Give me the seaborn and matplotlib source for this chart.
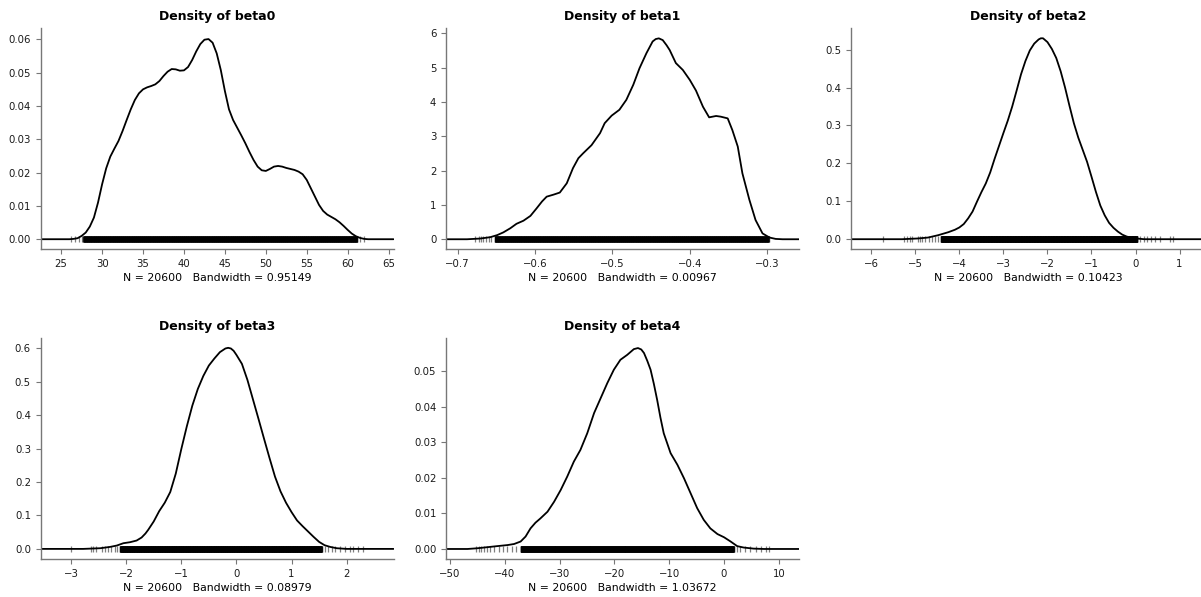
import numpy as np
import pandas as pd
import matplotlib
matplotlib.use("Agg")
import matplotlib.pyplot as plt
import seaborn as sns

# density curves (x, density)
beta0_x = [22.5, 26.0, 26.5, 27.0, 27.5, 28.0, 28.5, 29.0, 29.5, 30.0, 30.5, 31.0, 31.5, 32.0,
           32.5, 33.0, 33.5, 34.0, 34.5, 35.0, 35.5, 36.0, 36.5, 37.0, 37.5, 38.0, 38.5, 39.0,
           39.5, 40.0, 40.5, 41.0, 41.5, 42.0, 42.5, 43.0, 43.5, 44.0, 44.5, 45.0, 45.5, 46.0,
           46.5, 47.0, 47.5, 48.0, 48.5, 49.0, 49.5, 50.0, 50.5, 51.0, 51.5, 52.0, 52.5, 53.0,
           53.5, 54.0, 54.5, 55.0, 55.5, 56.0, 56.5, 57.0, 57.5, 58.0, 58.5, 59.0, 59.5, 60.0,
           60.5, 61.0, 61.5, 62.0, 62.5, 65.6]
beta0_y = [0.0, 0.0, 0.0001, 0.0003, 0.0010, 0.0020, 0.0038, 0.0065, 0.0110, 0.0165, 0.0213,
           0.0248, 0.0272, 0.0295, 0.0325, 0.0358, 0.0390, 0.0418, 0.0438, 0.0450, 0.0456,
           0.0460, 0.0465, 0.0475, 0.0490, 0.0503, 0.0511, 0.0510, 0.0506, 0.0507, 0.0517,
           0.0538, 0.0564, 0.0586, 0.0599, 0.0601, 0.0590, 0.0558, 0.0508, 0.0445, 0.0390,
           0.0358, 0.0335, 0.0312, 0.0288, 0.0262, 0.0238, 0.0218, 0.0207, 0.0205, 0.0211,
           0.0218, 0.0220, 0.0218, 0.0214, 0.0211, 0.0208, 0.0203, 0.0195, 0.0178, 0.0153,
           0.0128, 0.0103, 0.0085, 0.0074, 0.0067, 0.0060, 0.0051, 0.0040, 0.0028, 0.0017,
           0.0009, 0.0004, 0.0001, 0.0, 0.0]

beta1_x = [-0.715, -0.688, -0.671, -0.658, -0.649, -0.641, -0.632, -0.624, -0.615, -0.606,
           -0.598, -0.591, -0.585, -0.576, -0.568, -0.559, -0.551, -0.544, -0.538, -0.527,
           -0.516, -0.510, -0.501, -0.491, -0.482, -0.473, -0.465, -0.456, -0.448, -0.444,
           -0.440, -0.435, -0.430, -0.426, -0.418, -0.409, -0.400, -0.392, -0.383, -0.375,
           -0.366, -0.360, -0.351, -0.345, -0.338, -0.332, -0.323, -0.315, -0.306, -0.297,
           -0.289, -0.280, -0.259]
beta1_y = [0.0, 0.0, 0.02, 0.06, 0.12, 0.2, 0.32, 0.45, 0.54, 0.68, 0.9, 1.1, 1.24, 1.3, 1.36,
           1.63, 2.07, 2.36, 2.5, 2.74, 3.09, 3.38, 3.6, 3.77, 4.06, 4.5, 4.98, 5.42, 5.76, 5.83,
           5.85, 5.80, 5.65, 5.51, 5.13, 4.93, 4.64, 4.33, 3.86, 3.55, 3.59, 3.57, 3.52, 3.18,
           2.7, 1.92, 1.15, 0.56, 0.17, 0.05, 0.01, 0.0, 0.0]

beta2_x = [-6.5, -5.3, -4.93, -4.71, -4.48, -4.25, -4.1, -4.0, -3.9, -3.8, -3.7, -3.6, -3.5,
           -3.4, -3.3, -3.2, -3.1, -3.0, -2.9, -2.8, -2.7, -2.6, -2.5, -2.4, -2.3, -2.2, -2.15,
           -2.1, -2.0, -1.9, -1.8, -1.7, -1.6, -1.5, -1.4, -1.3, -1.2, -1.1, -1.0, -0.9, -0.8,
           -0.7, -0.6, -0.5, -0.4, -0.3, -0.2, -0.1, 0.0, 0.2, 1.56]
beta2_y = [0.0, 0.0, 0.002, 0.0044, 0.0106, 0.0185, 0.025, 0.031, 0.040, 0.055, 0.073, 0.099,
           0.124, 0.147, 0.176, 0.212, 0.246, 0.280, 0.313, 0.350, 0.392, 0.435, 0.470, 0.498,
           0.516, 0.527, 0.530, 0.530, 0.520, 0.502, 0.478, 0.443, 0.400, 0.352, 0.306, 0.268,
           0.236, 0.204, 0.165, 0.125, 0.089, 0.063, 0.043, 0.030, 0.020, 0.012, 0.007, 0.004,
           0.002, 0.0, 0.0]

beta3_x = [-3.55, -2.78, -2.47, -2.29, -2.17, -2.05, -1.93, -1.81, -1.72, -1.65, -1.60, -1.50,
           -1.40, -1.30, -1.20, -1.10, -1.00, -0.90, -0.80, -0.70, -0.60, -0.50, -0.40, -0.30,
           -0.20, -0.15, -0.10, -0.05, 0.00, 0.10, 0.20, 0.30, 0.40, 0.50, 0.60, 0.70, 0.80,
           0.90, 1.00, 1.10, 1.20, 1.30, 1.40, 1.50, 1.60, 1.70, 1.82, 2.0, 2.85]
beta3_y = [0.0, 0.0, 0.002, 0.006, 0.010, 0.017, 0.020, 0.025, 0.034, 0.046, 0.057, 0.082,
           0.113, 0.138, 0.170, 0.225, 0.298, 0.366, 0.428, 0.478, 0.517, 0.548, 0.569, 0.588,
           0.599, 0.601, 0.599, 0.592, 0.580, 0.553, 0.505, 0.447, 0.389, 0.330, 0.272, 0.216,
           0.172, 0.138, 0.110, 0.085, 0.068, 0.052, 0.036, 0.021, 0.011, 0.006, 0.002, 0.0, 0.0]

beta4_x = [-50.7, -46.8, -45.0, -43.2, -41.4, -39.5, -38.3, -37.1, -36.2, -35.3, -34.4, -33.5,
           -32.2, -31.0, -29.8, -28.6, -27.4, -26.2, -24.95, -23.7, -22.5, -21.3, -20.1, -18.9,
           -17.65, -16.45, -15.7, -15.1, -14.6, -14.0, -13.4, -12.8, -12.2, -11.6, -11.0, -9.75,
           -8.5, -7.3, -6.1, -4.9, -3.7, -2.5, -1.2, 0.0, 1.2, 2.4, 3.6, 5.4, 7.3, 13.65]
beta4_y = [0.0, 0.0, 0.0002, 0.0005, 0.0008, 0.0011, 0.0014, 0.0021, 0.0035, 0.0058, 0.0074,
           0.0086, 0.0105, 0.0133, 0.0166, 0.0204, 0.0246, 0.0279, 0.0326, 0.0383, 0.0425,
           0.0467, 0.0505, 0.0533, 0.0547, 0.0563, 0.0566, 0.0562, 0.0552, 0.0530, 0.0505,
           0.0465, 0.042, 0.037, 0.0326, 0.027, 0.0237, 0.0199, 0.0157, 0.0115, 0.0082, 0.0058,
           0.0042, 0.0033, 0.0021, 0.0008, 0.0004, 0.0001, 0.0, 0.0]

# rug: isolated tail draws + the span where the draws form a solid band
beta0_rug_tails = [26.2, 26.7, 27.2, 27.5, 61.55, 61.96]
beta0_rug_band = (27.7, 61.15)
beta1_rug_tails = [-0.677, -0.673, -0.670, -0.667, -0.663, -0.660, -0.657]
beta1_rug_band = (-0.652, -0.298)
beta2_rug_tails = [-5.74, -5.25, -5.19, -5.13, -5.07, -4.95, -4.89, -4.84, -4.78, -4.70, -4.63,
                   -4.55, -4.48, 0.11, 0.19, 0.26, 0.34, 0.45, 0.56, 0.79, 0.86]
beta2_rug_band = (-4.42, 0.04)
beta3_rug_tails = [-3.005, -2.64, -2.60, -2.55, -2.44, -2.38, -2.33, -2.27, -2.21, -2.16,
                   1.61, 1.67, 1.73, 1.79, 1.88, 1.97, 2.06, 2.12, 2.21, 2.30]
beta3_rug_band = (-2.11, 1.55)
beta4_rug_tails = [-45.3, -44.7, -44.3, -43.8, -43.2, -42.6, -41.9, -41.1, -40.3, -39.5, -38.7,
                   -37.9, 2.4, 3.0, 3.9, 4.8, 5.75, 6.7, 7.6, 8.2]
beta4_rug_band = (-37.1, 1.8)

names = ["beta0", "beta1", "beta2", "beta3", "beta4"]
bandwidths = ["0.95149", "0.00967", "0.10423", "0.08979", "1.03672"]
n_draws = 20600

xlims = [(22.5, 65.6), (-0.715, -0.259), (-6.45, 1.56), (-3.55, 2.85), (-50.7, 13.65)]
ylims = [(-0.003, 0.0634), (-0.29, 6.15), (-0.0264, 0.557), (-0.031, 0.63), (-0.0029, 0.0594)]
xticks = [[25, 30, 35, 40, 45, 50, 55, 60, 65], [-0.7, -0.6, -0.5, -0.4, -0.3],
          [-6, -5, -4, -3, -2, -1, 0, 1], [-3, -2, -1, 0, 1, 2], [-50, -40, -30, -20, -10, 0, 10]]
yticks = [[0, 0.01, 0.02, 0.03, 0.04, 0.05, 0.06], [0, 1, 2, 3, 4, 5, 6],
          [0, 0.1, 0.2, 0.3, 0.4, 0.5], [0, 0.1, 0.2, 0.3, 0.4, 0.5, 0.6],
          [0, 0.01, 0.02, 0.03, 0.04, 0.05]]
yfmt = ["%.2f", "%d", "%.1f", "%.1f", "%.2f"]

curves = [(beta0_x, beta0_y), (beta1_x, beta1_y), (beta2_x, beta2_y),
          (beta3_x, beta3_y), (beta4_x, beta4_y)]
rugs = [(beta0_rug_tails, beta0_rug_band), (beta1_rug_tails, beta1_rug_band),
        (beta2_rug_tails, beta2_rug_band), (beta3_rug_tails, beta3_rug_band),
        (beta4_rug_tails, beta4_rug_band)]

sns.set_style("ticks")
plt.rcParams["font.family"] = ["DejaVu Sans"]
plt.rcParams["text.color"] = "black"
plt.rcParams["axes.labelcolor"] = "black"

fig, axes = plt.subplots(2, 3, figsize=(12.01, 5.97), dpi=100)
fig.subplots_adjust(left=0.0339, right=1.0027, bottom=0.0632, top=0.953,
                    wspace=0.149, hspace=0.402)
axes = axes.ravel()

for i, name in enumerate(names):
    ax = axes[i]
    cx, cy = curves[i]
    df = pd.DataFrame({"x": cx, "density": cy})

    # rug of draws, centred on the zero line
    tails, (lo, hi) = rugs[i]
    band = np.linspace(lo, hi, 1500)
    sns.scatterplot(x=tails, y=np.zeros(len(tails)), ax=ax, marker="|", s=13,
                    color="black", alpha=0.5, linewidth=0.9, legend=False)
    sns.scatterplot(x=band, y=np.zeros(len(band)), ax=ax, marker="|", s=13,
                    color="black", alpha=0.6, linewidth=0.9, legend=False)

    sns.lineplot(data=df, x="x", y="density", ax=ax, color="black", linewidth=1.3,
                 sort=False, estimator=None)

    ax.set_xlim(*xlims[i])
    ax.set_ylim(*ylims[i])
    ax.set_xticks(xticks[i])
    ax.set_yticks(yticks[i])
    ax.yaxis.set_major_formatter(matplotlib.ticker.FormatStrFormatter(yfmt[i]))
    ax.set_title(f"Density of {name}", fontsize=9, fontweight="bold", pad=6)
    ax.set_xlabel(f"N = {n_draws}   Bandwidth = {bandwidths[i]}", fontsize=7.8, labelpad=3)
    ax.set_ylabel("")
    ax.tick_params(labelsize=7.3, length=3.5, width=0.8, color="#777777", labelcolor="#1a1a1a")
    for side in ["left", "bottom"]:
        ax.spines[side].set_color("#777777")
        ax.spines[side].set_linewidth(1.0)
    sns.despine(ax=ax)

axes[5].set_visible(False)

fig.savefig("out.png", dpi=100)
